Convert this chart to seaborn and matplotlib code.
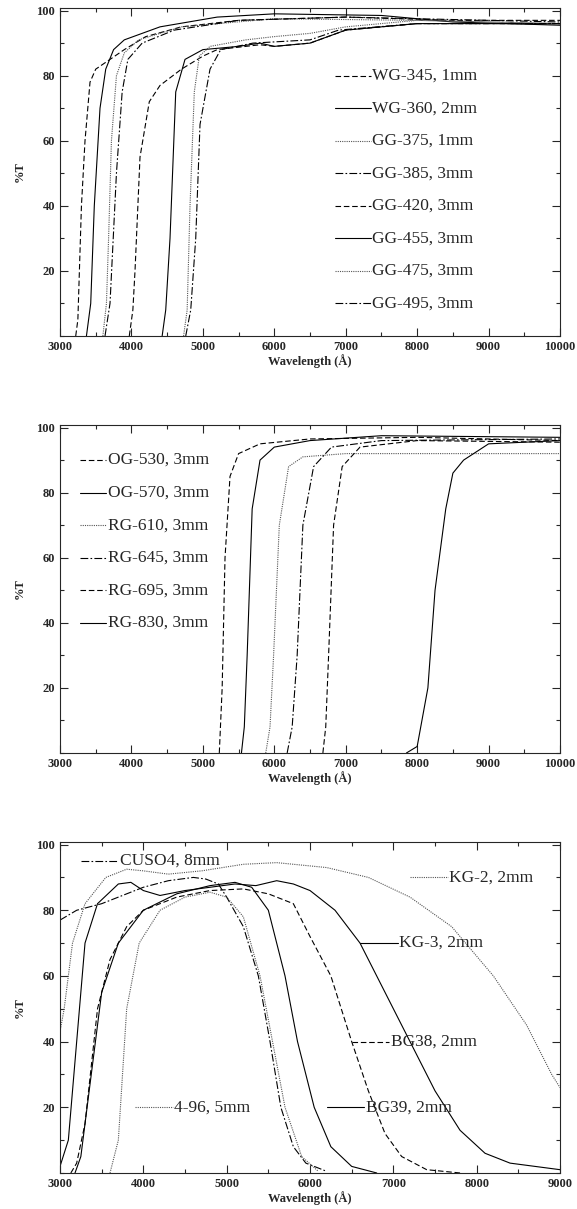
import matplotlib
matplotlib.use("Agg")
import matplotlib.pyplot as plt
import seaborn as sns
import numpy as np
from matplotlib.ticker import MultipleLocator, FixedLocator

sns.set_style("ticks")
plt.rcParams['font.family'] = ['Liberation Serif', 'DejaVu Serif']

# ---------------- Panel 1 data ----------------
p1_names = ["WG-345, 1mm", "WG-360, 2mm", "GG-375, 1mm", "GG-385, 3mm",
            "GG-420, 3mm", "GG-455, 3mm", "GG-475, 3mm", "GG-495, 3mm"]
p1_styles = ["dashed", "solid", "dotted", "dashdot", "dashed", "solid", "dotted", "dashdot"]
p1_label_y = [80, 70, 60, 50, 40, 30, 20, 10]
wg345_x = [3220, 3250, 3300, 3350, 3420, 3500, 3700, 3900, 4200, 4700, 5500, 7000, 8500, 10000]
wg345_y = [0, 5, 40, 60, 78, 82, 85, 88, 92, 95, 97, 98, 97, 97]
wg360_x = [3370, 3430, 3480, 3560, 3640, 3750, 3900, 4400, 5200, 6000, 7500, 8500, 10000]
wg360_y = [0, 10, 40, 70, 82, 88, 91, 95, 98, 99, 98.5, 96.5, 95.5]
gg375_x = [3600, 3650, 3680, 3720, 3790, 3900, 4100, 4700, 6000, 8000, 10000]
gg375_y = [0, 10, 30, 60, 80, 87, 91, 95, 97.5, 97, 96]
gg385_x = [3630, 3700, 3790, 3870, 3950, 4150, 4600, 5500, 7000, 9000, 10000]
gg385_y = [0, 10, 50, 75, 85, 90, 94, 97, 98, 97, 96.5]
gg420_x = [3970, 4020, 4050, 4120, 4250, 4400, 4700, 5000, 5200, 5800, 6000, 6500, 7000, 8000, 10000]
gg420_y = [0, 8, 20, 55, 72, 77, 82, 86, 88, 89.5, 89, 90, 94, 96, 96]
gg455_x = [4430, 4480, 4540, 4620, 4750, 5000, 5500, 5800, 6000, 6500, 7000, 8000, 10000]
gg455_y = [0, 8, 30, 75, 85, 88, 89, 90, 89, 90, 94, 96, 96]
gg475_x = [4730, 4780, 4820, 4880, 4950, 5100, 5600, 6000, 6500, 7000, 8000, 10000]
gg475_y = [0, 8, 40, 75, 86, 89, 91, 92, 93, 95, 97, 96]
gg495_x = [4760, 4830, 4900, 4960, 5100, 5250, 5700, 6500, 6900, 8000, 10000]
gg495_y = [0, 8, 30, 65, 82, 88, 90, 91, 94, 96, 96]
p1_x = [wg345_x, wg360_x, gg375_x, gg385_x, gg420_x, gg455_x, gg475_x, gg495_x]
p1_y = [wg345_y, wg360_y, gg375_y, gg385_y, gg420_y, gg455_y, gg475_y, gg495_y]

# ---------------- Panel 2 data ----------------
p2_names = ["OG-530, 3mm", "OG-570, 3mm", "RG-610, 3mm", "RG-645, 3mm", "RG-695, 3mm", "RG-830, 3mm"]
p2_styles = ["dashed", "solid", "dotted", "dashdot", "dashed", "solid"]
p2_label_y = [90, 80, 70, 60, 50, 40]
og530_x = [5230, 5270, 5310, 5380, 5500, 5800, 6500, 8000, 10000]
og530_y = [0, 20, 60, 85, 92, 95, 96.5, 97, 96]
og570_x = [5540, 5580, 5620, 5690, 5800, 6000, 6500, 7500, 10000]
og570_y = [0, 8, 30, 75, 90, 94, 96, 97.5, 97]
rg610_x = [5880, 5940, 5990, 6070, 6200, 6400, 7000, 10000]
rg610_y = [0, 8, 30, 70, 88, 91, 92, 92]
rg645_x = [6180, 6250, 6320, 6400, 6550, 6800, 7500, 10000]
rg645_y = [0, 8, 30, 70, 88, 94, 96, 96.5]
rg695_x = [6680, 6720, 6760, 6830, 6950, 7200, 8000, 10000]
rg695_y = [0, 8, 30, 70, 88, 94, 96, 95.5]
rg830_x = [7850, 8000, 8150, 8250, 8400, 8500, 8650, 9000, 10000]
rg830_y = [0, 2, 20, 50, 75, 86, 90, 95, 96]
p2_x = [og530_x, og570_x, rg610_x, rg645_x, rg695_x, rg830_x]
p2_y = [og530_y, og570_y, rg610_y, rg645_y, rg695_y, rg830_y]

# ---------------- Panel 3 data ----------------
p3_names = ["CUSO4, 8mm", "KG-2, 2mm", "KG-3, 2mm", "BG38, 2mm", "BG39, 2mm", "4-96, 5mm"]
p3_styles = ["dashdot", "dotted", "solid", "dashed", "solid", "dotted"]
p3_label_y = [95, 90, 70, 40, 20, 20]
p3_label_x0 = [3250, 7200, 6600, 6500, 6200, 3900]
cuso4_x = [3000, 3200, 3500, 3800, 4000, 4300, 4600, 4750, 4900, 5000, 5200, 5380, 5520, 5650, 5800, 5950, 6200]
cuso4_y = [77, 80, 82, 85, 87, 89, 90, 89.5, 88, 84, 75, 60, 40, 20, 8, 3, 0.5]
kg2_x = [3000, 3050, 3150, 3300, 3550, 3800, 4000, 4300, 4700, 5200, 5600, 6200, 6700, 7200, 7700, 8200, 8600, 8900, 9000]
kg2_y = [43, 50, 70, 82, 90, 92.5, 92, 91, 92, 94, 94.5, 93, 90, 84, 75, 60, 45, 30, 26]
kg3_x = [3000, 3100, 3200, 3300, 3450, 3700, 3850, 4000, 4200, 4500, 4800, 5100, 5350, 5600, 5800, 6000, 6300,
         6600, 6900, 7200, 7500, 7800, 8100, 8400, 9000]
kg3_y = [2, 10, 40, 70, 82, 88, 88.5, 86, 84.5, 86, 87, 88, 87.5, 89, 88, 86, 80, 70, 55, 40, 25, 13, 6, 3, 1]
bg38_x = [3130, 3200, 3300, 3450, 3600, 3800, 4000, 4400, 4800, 5200, 5500, 5800, 6000, 6250, 6500, 6700, 6900,
          7100, 7400, 7800]
bg38_y = [0, 3, 15, 50, 65, 75, 80, 84, 86, 86.5, 85, 82, 72, 60, 40, 25, 12, 5, 1, 0]
bg39_x = [3180, 3250, 3350, 3500, 3700, 4000, 4400, 4800, 5100, 5300, 5500, 5700, 5850, 6050, 6250, 6500, 6800]
bg39_y = [0, 5, 25, 55, 70, 80, 85, 87.5, 88.5, 87, 80, 60, 40, 20, 8, 2, 0]
f496_x = [3600, 3700, 3800, 3950, 4200, 4500, 4800, 5000, 5200, 5400, 5550, 5700, 5900, 6100]
f496_y = [0, 10, 50, 70, 80, 84, 85.5, 84, 78, 60, 40, 20, 5, 0.5]
p3_x = [cuso4_x, kg2_x, kg3_x, bg38_x, bg39_x, f496_x]
p3_y = [cuso4_y, kg2_y, kg3_y, bg38_y, bg39_y, f496_y]

LS = {"solid": "-", "dashed": (0, (5, 2.5)), "dotted": (0, (1, 1)), "dashdot": (0, (7, 2, 1.5, 2))}
COL = {"solid": "black", "dashed": "black", "dotted": "#555555", "dashdot": "black"}
LEG_FS = 12.5

fig = plt.figure(figsize=(5.77, 12.09), dpi=100)
axes = [fig.add_axes([0.104, 0.7221, 0.8666, 0.2713]),
        fig.add_axes([0.104, 0.3772, 0.8666, 0.2713]),
        fig.add_axes([0.104, 0.0298, 0.8666, 0.2738])]

def style_axis(ax, xmax):
    ax.set_xlim(3000, xmax)
    ax.set_ylim(0, 100.8)
    ax.xaxis.set_major_locator(MultipleLocator(1000))
    ax.xaxis.set_minor_locator(MultipleLocator(500))
    ax.yaxis.set_major_locator(FixedLocator([20, 40, 60, 80, 100]))
    ax.yaxis.set_minor_locator(MultipleLocator(10))
    ax.tick_params(which="both", direction="in", top=True, right=True, labelsize=9)
    ax.tick_params(which="major", length=6, width=0.8)
    ax.tick_params(which="minor", length=3, width=0.8)
    for lab in ax.get_xticklabels() + ax.get_yticklabels():
        lab.set_fontweight("bold")
    ax.set_xlabel("Wavelength (Å)", fontsize=9, fontweight="bold", labelpad=1)
    ax.set_ylabel("%T", fontsize=9, fontweight="bold", labelpad=8)
    for s in ax.spines.values():
        s.set_linewidth(0.8)
        s.set_visible(True)

def draw(ax, xs, ys, styles):
    for x, y, st in zip(xs, ys, styles):
        sns.lineplot(x=x, y=y, ax=ax, color=COL[st], linestyle=LS[st], lw=0.8, sort=False,
                     estimator=None)

draw(axes[0], p1_x, p1_y, p1_styles)
for n, st, ly in zip(p1_names, p1_styles, p1_label_y):
    axes[0].plot([6850, 7350], [ly, ly], color=COL[st], linestyle=LS[st], lw=0.8)
    axes[0].text(7370, ly, n, fontsize=LEG_FS, va="center", ha="left")
style_axis(axes[0], 10000)

draw(axes[1], p2_x, p2_y, p2_styles)
for n, st, ly in zip(p2_names, p2_styles, p2_label_y):
    axes[1].plot([3280, 3650], [ly, ly], color=COL[st], linestyle=LS[st], lw=0.8)
    axes[1].text(3670, ly, n, fontsize=LEG_FS, va="center", ha="left")
style_axis(axes[1], 10000)

draw(axes[2], p3_x, p3_y, p3_styles)
for n, st, ly, lx in zip(p3_names, p3_styles, p3_label_y, p3_label_x0):
    axes[2].plot([lx, lx + 450], [ly, ly], color=COL[st], linestyle=LS[st], lw=0.8)
    axes[2].text(lx + 470, ly, n, fontsize=LEG_FS, va="center", ha="left")
style_axis(axes[2], 9000)

fig.savefig("out.png", dpi=100)
